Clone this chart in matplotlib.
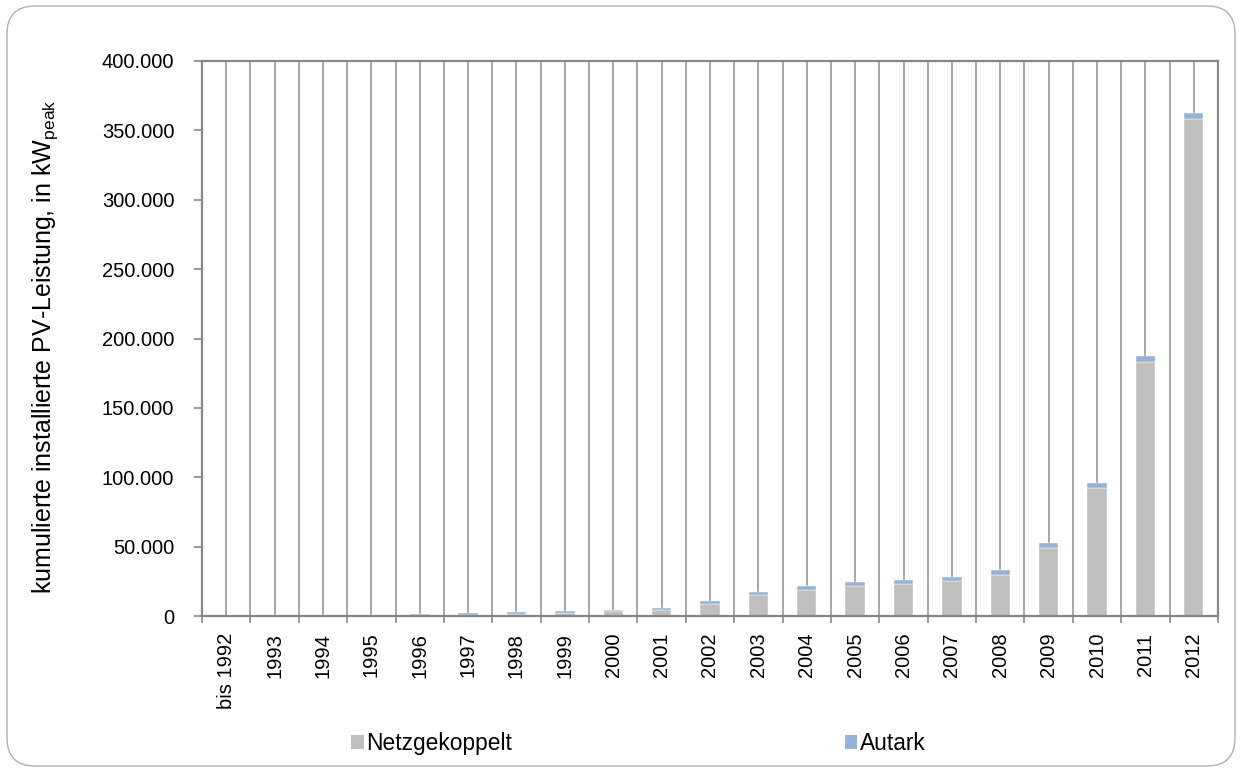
import matplotlib
matplotlib.use("Agg")
import matplotlib.pyplot as plt
import numpy as np
from matplotlib.patches import FancyBboxPatch, Patch
from matplotlib.ticker import FuncFormatter, FixedLocator

plt.rcParams["font.family"] = ["Liberation Sans", "DejaVu Sans"]
plt.rcParams["mathtext.fontset"] = "custom"
plt.rcParams["mathtext.rm"] = "Liberation Sans"

years = ["bis 1992", "1993", "1994", "1995", "1996", "1997", "1998", "1999",
         "2000", "2001", "2002", "2003", "2004", "2005", "2006", "2007",
         "2008", "2009", "2010", "2011", "2012"]
# cumulative installed capacity in kWp
total = [200, 450, 550, 700, 1300, 1900, 2800, 3600, 4600, 5800, 10500,
         17000, 21300, 24200, 25800, 28000, 32800, 52700, 95800, 187600, 362500]
autark = [200, 400, 500, 600, 800, 900, 1000, 1100, 1300, 1600, 2100,
          2200, 2500, 2700, 2900, 3100, 3400, 3600, 3900, 4200, 4500]
netz = [t - a for t, a in zip(total, autark)]

grey = "#bfbfbf"
blue = "#95b3d7"
line_grey = "#a6a6a6"
axis_grey = "#868686"

fig = plt.figure(figsize=(12.42, 7.72), dpi=100)
ax = fig.add_axes([202 / 1242, 1 - 616 / 772, 1016 / 1242, 555 / 772])

x = np.arange(len(years))
ax.bar(x, netz, width=0.4, color=grey, edgecolor="white", linewidth=0.3, zorder=3)
ax.bar(x, autark, bottom=netz, width=0.4, color=blue, edgecolor="white",
       linewidth=0.3, zorder=3)

ax.set_xlim(-0.5, len(years) - 0.5)
ax.set_ylim(0, 400000)

# vertical lines at the category boundaries and from each bar top upwards
for b in np.arange(0.5, len(years) - 0.5, 1):
    ax.axvline(b, color=line_grey, lw=1.4, zorder=1)
ax.vlines(x, total, 400000, color=line_grey, lw=1.4, zorder=1)

ax.set_xticks(x)
ax.set_xticklabels(years, rotation=90, fontsize=14.5, va="top")
ax.xaxis.set_minor_locator(FixedLocator(np.arange(-0.5, len(years), 1)))
ax.tick_params(axis="x", which="major", length=0, pad=12)
ax.tick_params(axis="x", which="minor", length=5, width=1.2, color=axis_grey,
               direction="out")

ax.set_yticks(np.arange(0, 400001, 50000))
ax.yaxis.set_major_formatter(FuncFormatter(lambda v, p: f"{int(v):,}".replace(",", ".")))
ax.tick_params(axis="y", labelsize=14.5, length=6, width=1.2, color=axis_grey,
               pad=14)

for s in ax.spines.values():
    s.set_color(axis_grey)
    s.set_linewidth(1.6)
    s.set_zorder(4)

ax.set_ylabel(r"kumulierte installierte PV-Leistung, in kW$_{\mathregular{peak}}$",
              fontsize=18)
ax.yaxis.set_label_coords(-0.140, 0.485)

handles = [Patch(facecolor=grey, edgecolor="none"),
           Patch(facecolor=blue, edgecolor="none")]
fig.legend(handles, ["Netzgekoppelt", "Autark"], loc="center",
           bbox_to_anchor=(0.514, 0.037), ncol=2, frameon=False, fontsize=16.4,
           handlelength=0.55, handleheight=0.55, handletextpad=0.1,
           columnspacing=14.6)

# rounded outer frame
frame = FancyBboxPatch((7, 6), 1228, 760, boxstyle="round,pad=0,rounding_size=28",
                       transform=None, facecolor="none", edgecolor="#b0b0b0",
                       lw=1.0)
fig.patches.append(frame)

fig.savefig("out.png", dpi=100)
